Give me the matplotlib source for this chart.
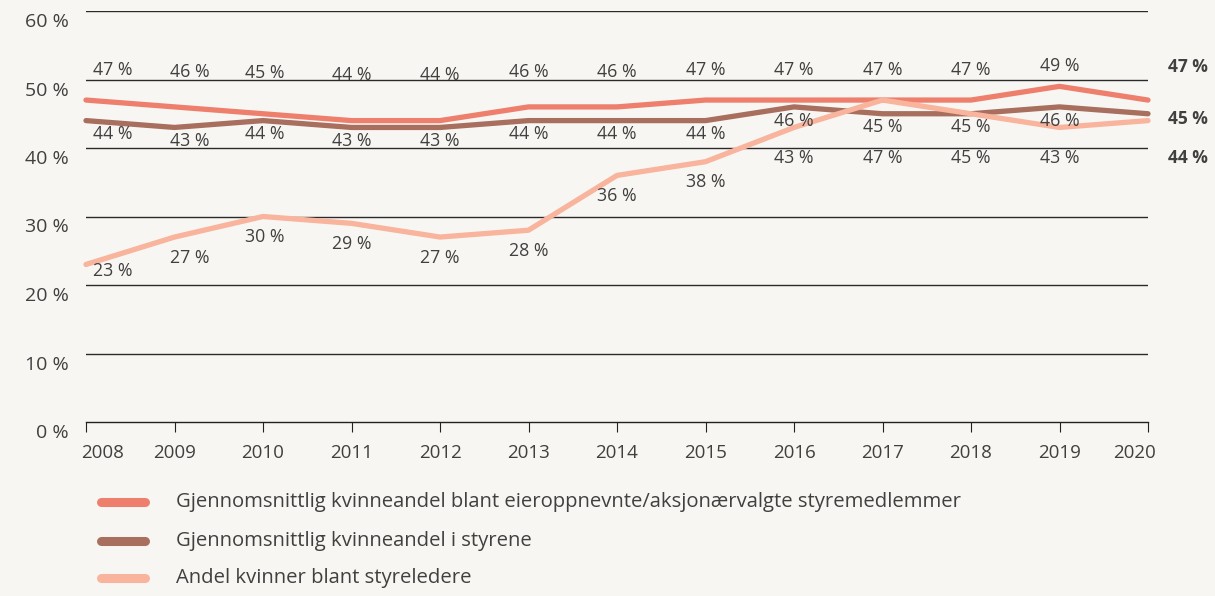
import matplotlib
matplotlib.use("Agg")
import matplotlib.pyplot as plt
from matplotlib.lines import Line2D
from matplotlib.transforms import ScaledTranslation

plt.rcParams['font.family'] = ['Open Sans', 'DejaVu Sans']

years = [2008, 2009, 2010, 2011, 2012, 2013, 2014, 2015, 2016, 2017, 2018, 2019, 2020]
eieroppnevnte = [47, 46, 45, 44, 44, 46, 46, 47, 47, 47, 47, 49, 47]
styrene = [44, 43, 44, 43, 43, 44, 44, 44, 46, 45, 45, 46, 45]
styreledere = [23, 27, 30, 29, 27, 28, 36, 38, 43, 47, 45, 43, 44]
series_names = [
    "Gjennomsnittlig kvinneandel blant eieroppnevnte/aksjonærvalgte styremedlemmer",
    "Gjennomsnittlig kvinneandel i styrene",
    "Andel kvinner blant styreledere",
]
y_ticks = [0, 10, 20, 30, 40, 50, 60]

BG = "#f8f6f2"
TEXT = "#404040"
COLORS = ["#ee7f6d", "#a86e5e", "#f8b49c"]

fig = plt.figure(figsize=(12.15, 5.96), dpi=100, facecolor=BG)
ax = fig.add_axes([86 / 1215, 1 - 422 / 596, 1062 / 1215, 411 / 596])
ax.set_facecolor(BG)
ax.set_xlim(years[0], years[-1])
ax.set_ylim(0, 60)

for s in ("top", "right", "left"):
    ax.spines[s].set_visible(False)
ax.spines["bottom"].set_color("#222222")
ax.spines["bottom"].set_linewidth(1.0)

for t in y_ticks[1:]:
    ax.axhline(t, color="#2a2a2a", lw=1.0, zorder=1)

ax.set_yticks(y_ticks)
ax.set_yticklabels([f"{t} %" for t in y_ticks])
ax.tick_params(axis="y", length=0, pad=12.5, labelsize=14, labelcolor=TEXT)
ax.set_xticks(years)
ax.set_xticklabels([str(y) for y in years])
ax.tick_params(axis="x", length=7, width=0.8, color="#222222", pad=9,
               labelsize=13.5, labelcolor=TEXT)

# y labels sit a little below their gridline
for lab in ax.get_yticklabels():
    lab.set_transform(lab.get_transform() + ScaledTranslation(0, -9 / 100, fig.dpi_scale_trans))
# pull the outer year labels inward
xl = ax.get_xticklabels()
xl[0].set_transform(xl[0].get_transform() + ScaledTranslation(17 / 100, 0, fig.dpi_scale_trans))
xl[-1].set_transform(xl[-1].get_transform() + ScaledTranslation(-14 / 100, 0, fig.dpi_scale_trans))

all_series = [eieroppnevnte, styrene, styreledere]
for vals, c in zip(all_series, COLORS):
    ax.plot(years, vals, color=c, lw=3.8, solid_capstyle="round",
            solid_joinstyle="round", zorder=3, clip_on=False)

label_nudge_px = {2008: 27, 2009: 15, 2010: 2}


def label_y(idx, v):
    if idx == 0:
        return 51.4 + 0.25 * (v - 47)
    if idx == 1:
        return v - 2.0
    return min(max(v - 3.0, 22.0), 38.6)


for idx, vals in enumerate(all_series):
    for i, (yr, v) in enumerate(zip(years, vals)):
        if yr == years[-1]:
            ly = {0: 51.8, 1: v - 0.8, 2: label_y(2, v)}[idx]
            tr = ax.transData + ScaledTranslation(40 / 100, 0, fig.dpi_scale_trans)
            ax.text(yr, ly, f"{v} %", transform=tr, ha="center", va="center",
                    fontsize=12.5, fontweight="bold", color=TEXT, clip_on=False)
            continue
        dx = label_nudge_px.get(yr, 0) / 100
        tr = ax.transData + ScaledTranslation(dx, 0, fig.dpi_scale_trans)
        ax.text(yr, label_y(idx, v), f"{v} %", transform=tr, ha="center",
                va="center", fontsize=12.8, color=TEXT, zorder=4)

# legend
legend_y = [502, 541, 578]
for name, c, py in zip(series_names, COLORS, legend_y):
    yf = 1 - py / 596
    fig.add_artist(Line2D([101 / 1215, 145 / 1215], [yf, yf], color=c, lw=6.5,
                          solid_capstyle="round", transform=fig.transFigure))
    fig.text(176 / 1215, yf, name, ha="left", va="center", fontsize=14.6,
             color=TEXT)

fig.savefig("out.png", dpi=100, facecolor=BG)
